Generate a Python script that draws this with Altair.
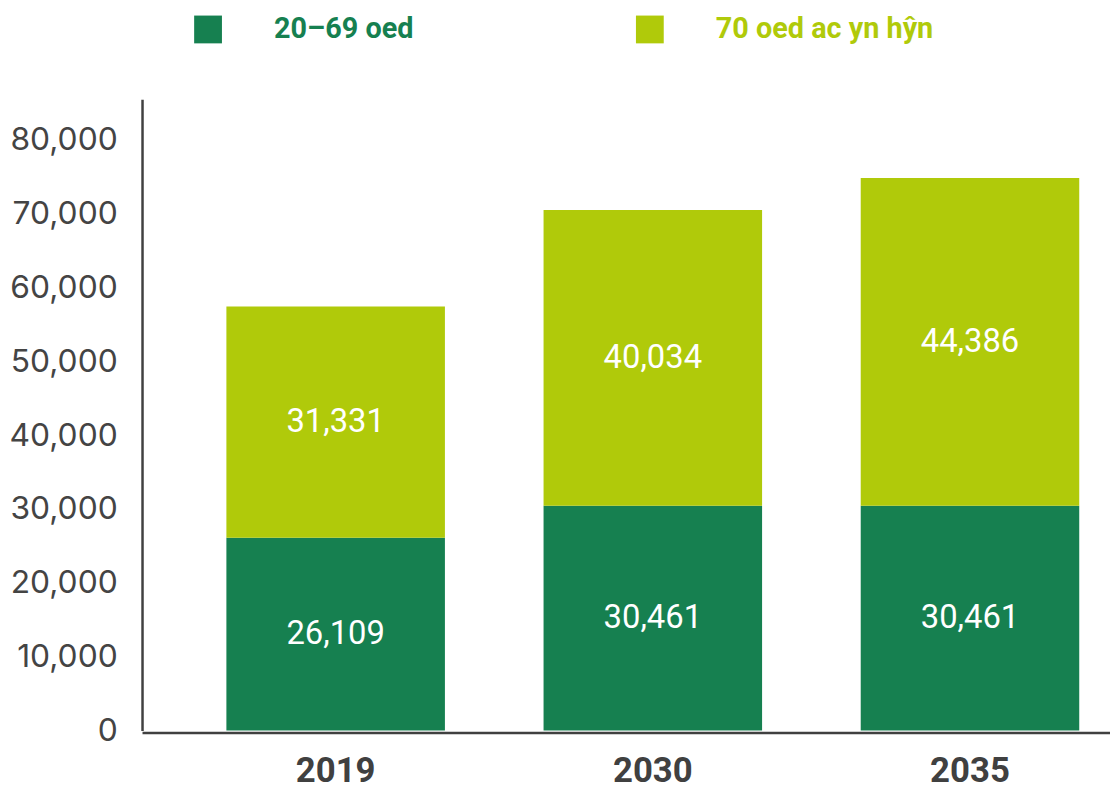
import altair as alt
import pandas as pd

years = ["2019", "2030", "2035"]
series = ["20–69 oed", "70 oed ac yn hŷn"]
young = [26109, 30461, 30461]
old = [31331, 40034, 44386]
colors = ["#168050", "#b0ca0a"]

rows = []
for i, yr in enumerate(years):
    rows.append({"year": yr, "group": series[0], "value": young[i], "order": 0})
    rows.append({"year": yr, "group": series[1], "value": old[i], "order": 1})
df = pd.DataFrame(rows)

label_expr = f"datum.value == '{series[0]}' ? '{colors[0]}' : '{colors[1]}'"

x_enc = alt.X(
    "year:N",
    sort=years,
    scale=alt.Scale(paddingInner=0.311, paddingOuter=0.266, range=[0, 1029]),
    axis=alt.Axis(
        title=None, labelAngle=0, ticks=False, labelFont="Roboto", labelFontWeight="bold",
        labelFontSize=35, labelColor="#404040", labelPadding=21, domainColor="#404040",
        domainWidth=2.5, offset=2,
    ),
)
y_scale = alt.Scale(domain=[0, 85500], nice=False)

bars = alt.Chart(df).mark_bar().encode(
    x=x_enc,
    y=alt.Y(
        "value:Q",
        stack="zero",
        scale=y_scale,
        axis=alt.Axis(
            title=None, values=list(range(0, 80001, 10000)), format=",.0f", ticks=False,
            grid=False, labelFont="Inter", labelFontSize=32, labelColor="#444444",
            labelPadding=25, domainColor="#404040", domainWidth=2.5,
        ),
    ),
    color=alt.Color(
        "group:N",
        scale=alt.Scale(domain=series, range=colors),
        legend=alt.Legend(
            title=None, orient="none", direction="horizontal", legendX=52, legendY=-85,
            symbolType="square", symbolSize=784, symbolStrokeWidth=0, symbolOpacity=1,
            labelFont="Roboto", labelFontWeight="bold", labelFontSize=29, labelLimit=500,
            labelColor=alt.ExprRef(label_expr), labelOffset=52, columnPadding=223,
            padding=0,
        ),
    ),
    order=alt.Order("order:Q"),
)

labels = alt.Chart(df).transform_stack(
    stack="value", groupby=["year"], as_=["v0", "v1"], sort=[alt.SortField("order")]
).transform_calculate(
    mid="(datum.v0 + datum.v1) / 2"
).mark_text(
    font="Roboto", fontSize=33, color="white", baseline="middle", align="center"
).encode(
    x=alt.X("year:N", sort=years),
    y=alt.Y("mid:Q", scale=y_scale),
    text=alt.Text("value:Q", format=","),
)

chart = alt.layer(bars, labels).properties(
    width=975, height=636,
    autosize=alt.AutoSizeParams(type="none"),
    padding={"left": 135, "top": 89, "right": 0, "bottom": 65},
).configure_view(stroke=None)

chart.save("out.html", embed_options={"renderer": "svg", "actions": False})
